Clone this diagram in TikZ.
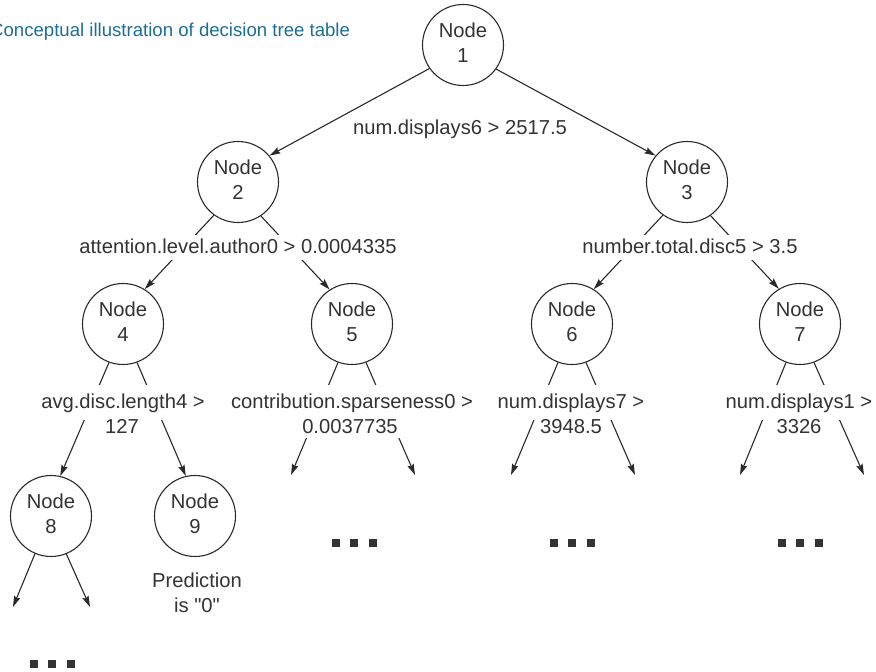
\documentclass[tikz,border=0pt]{standalone}
\usepackage{fontspec}
\setmainfont{Liberation Sans}[Ligatures=TeXOff]
\usetikzlibrary{arrows.meta}
\definecolor{ink}{HTML}{2A2A2A}
\definecolor{txt}{HTML}{333333}
\definecolor{titleblue}{HTML}{1C6E96}
\newcommand{\treefont}{\fontsize{20.2bp}{25bp}\selectfont}
\newcommand{\nodelabel}[1]{\raisebox{-4.8bp}{\begin{tabular}{@{}c@{}}Node\\#1\end{tabular}}}

\begin{document}
\begin{tikzpicture}[x=1bp,y=-1bp,
  treenode/.style={circle, draw=ink, line width=1.1bp, minimum size=81bp, inner sep=0pt, font=\treefont, text=txt},
  link/.style={draw=ink, line width=1.1bp, -{Stealth[length=11bp,width=6.5bp,inset=1.5bp]}},
  cond/.style={font=\treefont, text=txt, inner sep=0pt, anchor=base},
  condmid/.style={cond, fill=white, inner xsep=2bp, text height=18bp, text depth=7bp},
  condtop/.style={cond, fill=white, inner xsep=2bp, text height=23bp, text depth=12bp},
  condbot/.style={cond, fill=white, inner xsep=2bp, text height=13bp, text depth=5bp},
  more/.style={rectangle, fill=txt, minimum size=8bp, inner sep=0pt}
]
\useasboundingbox (0,0) rectangle (876,672);

% caption
\node[anchor=base west, inner sep=0pt, font=\fontsize{18.6bp}{22bp}\selectfont, text=titleblue]
  (title) at (-10,36.5) {Conceptual illustration of decision tree table};

% tree nodes
\node[treenode] (n1) at (463,45)  {\nodelabel{1}};
\node[treenode] (n2) at (238,182) {\nodelabel{2}};
\node[treenode] (n3) at (687,182) {\nodelabel{3}};
\node[treenode] (n4) at (123,324) {\nodelabel{4}};
\node[treenode] (n5) at (352,324) {\nodelabel{5}};
\node[treenode] (n6) at (572,324) {\nodelabel{6}};
\node[treenode] (n7) at (800,324) {\nodelabel{7}};
\node[treenode] (n8) at (51,516)  {\nodelabel{8}};
\node[treenode] (n9) at (195,516) {\nodelabel{9}};

% open ends of the unexpanded branches
\coordinate (e5l) at (291,475);
\coordinate (e5r) at (415,475);
\coordinate (e6l) at (511,475);
\coordinate (e6r) at (635,475);
\coordinate (e7l) at (740,475);
\coordinate (e7r) at (864,475);
\coordinate (e8l) at (13,607);
\coordinate (e8r) at (90,607);

% branches
\path[link] (n1.215) -- (n2.40);
\path[link] (n1.-36) -- (n3.140);
\path[link] (n2.234) -- (n4.58);
\path[link] (n2.304) -- (n5.123);
\path[link] (n3.234) -- (n6.58);
\path[link] (n3.305) -- (n7.121);
\path[link] (n4.250) -- (n8.77);
\path[link] (n4.290) -- (n9.103);
\path[link] (n5.250) -- (e5l);
\path[link] (n5.290) -- (e5r);
\path[link] (n6.250) -- (e6l);
\path[link] (n6.290) -- (e6r);
\path[link] (n7.250) -- (e7l);
\path[link] (n7.290) -- (e7r);
\path[link] (n8.247) -- (e8l);
\path[link] (n8.292) -- (e8r);

% split conditions
\node[cond]    (c1)  at (460,135) {num.displays6 > 2517.5};
\node[condmid] (c2)  at (238,253) {attention.level.author0 > 0.0004335};
\node[condmid] (c3)  at (690,253) {number.total.disc5 > 3.5};
\node[condtop] (c4a) at (123,408) {avg.disc.length4 >};
\node[condbot] (c4b) at (122,433) {127};
\node[condtop] (c5a) at (352,408) {contribution.sparseness0 >};
\node[condbot] (c5b) at (350,433) {0.0037735};
\node[condtop] (c6a) at (571,408) {num.displays7 >};
\node[condbot] (c6b) at (571,433) {3948.5};
\node[condtop] (c7a) at (799,408) {num.displays1 >};
\node[condbot] (c7b) at (799,433) {3326};

% leaf prediction
\node[cond] (p9a) at (197,587) {Prediction};
\node[cond] (p9b) at (197,612) {is "0"};

% continuation marks
\foreach \cx/\cy/\nm in {52/664/a, 354/543/b, 572/543/c, 800/543/d}{
  \foreach \k in {1,2,3}{
    \node[more] (more\nm\k) at ({\cx+18.5*(\k-2)},\cy) {};
  }
}
\end{tikzpicture}
\end{document}
